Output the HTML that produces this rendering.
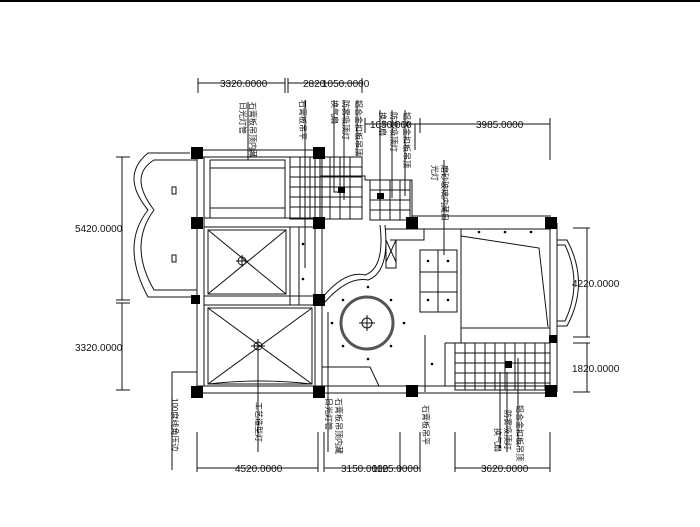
<!DOCTYPE html>
<html><head><meta charset="utf-8"><style>
html,body{margin:0;padding:0;background:#fff;}
svg{display:block;}
text{font-family:"Liberation Sans","Noto Sans CJK SC",sans-serif;fill:#111;}
.d{font-size:10px;}
.v{font-size:8px;}
</style></head><body>
<svg width="700" height="527" viewBox="0 0 700 527" xmlns="http://www.w3.org/2000/svg">
<rect x="0" y="0" width="700" height="2" fill="#000"/>
<g stroke="#111" stroke-width="1" fill="none">
<!-- outer walls -->
<path d="M197 150H320 M197 157H320 M320 150V157"/>
<path d="M320 176H365V180H412V223 M365 176V180"/>
<path d="M412 216H551 M412 229H551"/>
<path d="M550 223V392 M557 223V392"/>
<path d="M197 386H557 M197 393H557"/>
<path d="M197 150V393 M204 157V386"/>
<path d="M315 157V386 M322 157V386"/>
<path d="M204 218H315 M204 227H315"/>
<path d="M204 296H315 M204 305H315"/>
<!-- upper left room -->
<path d="M210 160H285V218 M210 168H285 M210 208H285 M210 160V218"/>
<!-- diag room -->
<rect x="208" y="230" width="78" height="64"/>
<path d="M208 230L286 294 M286 230L208 294"/>
<circle cx="242" cy="261" r="4"/>
<path d="M236 261H248 M242 255V267"/>
<!-- lower diag room -->
<path d="M208 308H312V384H208Z M208 308L312 384 M312 308L208 384"/>
<path d="M208 384Q260 378 312 384"/>
<circle cx="258" cy="346" r="4"/>
<path d="M251 346H265 M258 339V353"/>
<!-- left balcony -->
<path d="M197 160H154 Q128 176 154 210 Q128 245 154 290 H197"/>
<path d="M190 153H148 Q120 176 148 210 Q120 245 148 297 H197"/>
<rect x="172" y="187" width="4" height="7"/>
<rect x="172" y="255" width="4" height="7"/>
<!-- middle corridor -->
<path d="M290 227V305 M299 227V305"/>
<!-- stair curve -->
<path d="M322 298 Q345 270 365 275 Q385 268 380 225"/>
<path d="M325 302 Q348 276 368 280 Q390 272 385 225"/>
<path d="M385 229H424V240H390 M386 240V268H396V240 M386 240L396 262 M396 240L386 262"/>
<!-- circle ceiling -->
<circle cx="367" cy="323" r="26" stroke-width="3" stroke="#555"/>
<circle cx="367" cy="323" r="5"/>
<path d="M359 323H375 M367 315V331"/>
<path d="M322 367H370L379 386"/>
<!-- middle panel -->
<rect x="420" y="250" width="37" height="62"/>
<path d="M420 272H457 M420 292H457 M438 250V312"/>
<!-- bedroom -->
<path d="M461 229V328H550 M461 328V343 M445 343H550 M445 343V386"/>
<path d="M461 236L539 248L548 327"/>
<path d="M557 240H567Q590 283 567 326H557 M557 245H565Q583 283 565 321H557"/>
<!-- top grid -->
<path d="M290 157H362V219H290Z"/>
<path d="M290 167H362 M290 177H362 M290 187H362 M290 197H362 M290 207H362"/>
<path d="M300 157V219 M310 157V219 M320 157V219 M330 157V219 M340 157V219 M350 157V219"/>
<path d="M370 180H410V220H370Z M370 190H410 M370 200H410 M370 210H410 M380 180V220 M390 180V220 M400 180V220"/>
<!-- bottom-right grid -->
<path d="M455 343H550V390H455Z"/>
<path d="M455 353H550 M455 363H550 M455 373H550 M455 383H550"/>
<path d="M465 343V390 M475 343V390 M485 343V390 M495 343V390 M505 343V390 M515 343V390 M525 343V390 M535 343V390 M545 343V390"/>
<!-- leader lines top -->
<path d="M248 102V160 M305 100V268 M334 100V192H340 M344 100V200 M357 100V156 M380 110V200 M392 110V198 M405 110V196 M444 160V255"/>
<!-- leader lines bottom -->
<path d="M172 372H197 M172 372V470 M258 346V452 M328 312V452 M425 335V392 M507 372V452 M500 372V448 M518 358V446"/>
<!-- dimensions top -->
<path d="M198 83H285 M198 78V93 M285 78V93 M288 83H362 M288 78V93 M362 78V93"/>
<path d="M365 124H550 M365 118V133 M420 118V133 M550 118V160 M415 124V150"/>
<!-- dimensions right -->
<path d="M587 228V337 M573 228H590 M573 337H590 M587 343V392 M573 343H590 M573 392H590"/>
<!-- left -->
<path d="M122 157V300 M116 157H130 M116 300H130 M122 303V390 M116 303H130 M116 390H130"/>
<!-- bottom -->
<path d="M197 468H318 M197 432V472 M318 432V472 M324 468H400 M324 432V472 M400 432V472 M420 432V472 M455 468H550 M455 432V472 M550 432V472 M400 468H420"/>
</g>
<!-- columns -->
<g fill="#000">
<rect x="191" y="147" width="12" height="12"/><rect x="313" y="147" width="12" height="12"/>
<rect x="191" y="217" width="12" height="12"/><rect x="313" y="217" width="12" height="12"/>
<rect x="406" y="217" width="12" height="12"/><rect x="545" y="217" width="12" height="12"/>
<rect x="191" y="295" width="9" height="9"/><rect x="313" y="294" width="12" height="12"/>
<rect x="191" y="386" width="12" height="12"/><rect x="313" y="386" width="12" height="12"/>
<rect x="406" y="385" width="12" height="12"/><rect x="545" y="385" width="12" height="12"/>
<rect x="549" y="335" width="8" height="8"/>
<rect x="338" y="187" width="7" height="6"/><rect x="377" y="193" width="7" height="6"/>
<rect x="505" y="361" width="7" height="7"/>
<!-- dots -->
<circle cx="303" cy="244" r="1.3"/><circle cx="303" cy="279" r="1.3"/>
<circle cx="368" cy="287" r="1.3"/><circle cx="343" cy="300" r="1.3"/><circle cx="391" cy="300" r="1.3"/>
<circle cx="332" cy="323" r="1.3"/><circle cx="404" cy="323" r="1.3"/>
<circle cx="343" cy="346" r="1.3"/><circle cx="391" cy="346" r="1.3"/><circle cx="368" cy="359" r="1.3"/>
<circle cx="428" cy="261" r="1.3"/><circle cx="448" cy="261" r="1.3"/><circle cx="428" cy="300" r="1.3"/><circle cx="448" cy="300" r="1.3"/>
<circle cx="479" cy="232" r="1.3"/><circle cx="505" cy="232" r="1.3"/><circle cx="531" cy="232" r="1.3"/>
<circle cx="432" cy="364" r="1.3"/>
</g>
<!-- dimension text -->
<text class="d" x="220" y="87">3320.0000</text>
<text class="d" x="303" y="87">2820</text><text class="d" x="322" y="87">1050.0000</text>
<text class="d" x="370" y="128">1050.000</text>
<text class="d" x="476" y="128">3985.0000</text>
<text class="d" x="572" y="287">4220.0000</text>
<text class="d" x="572" y="372">1820.0000</text>
<text class="d" x="75" y="232">5420.0000</text>
<text class="d" x="75" y="351">3320.0000</text>
<text class="d" x="235" y="472">4520.0000</text>
<text class="d" x="341" y="472">3150.0000</text><text class="d" x="372" y="472">1125.0000</text>
<text class="d" x="481" y="472">3620.0000</text>
<!-- vertical labels -->
<g class="v">
<text transform="translate(250,102) rotate(90)">石膏板吊顶内藏</text>
<text transform="translate(240,102) rotate(90)">日光灯管</text>
<text transform="translate(300,100) rotate(90)">石膏板吊平</text>
<text transform="translate(332,100) rotate(90)">换气扇</text>
<text transform="translate(343,100) rotate(90)">防雾吸顶灯</text>
<text transform="translate(356,100) rotate(90)">铝合金扣板吊顶</text>
<text transform="translate(380,112) rotate(90)">换气扇</text>
<text transform="translate(391,112) rotate(90)">防雾吸顶灯</text>
<text transform="translate(404,112) rotate(90)">铝合金扣板吊顶</text>
<text transform="translate(442,165) rotate(90)">磨砂玻璃内藏日</text>
<text transform="translate(432,165) rotate(90)">光灯</text>
<text transform="translate(172,398) rotate(90)">100度线角压边</text>
<text transform="translate(256,402) rotate(90)">工艺造型灯</text>
<text transform="translate(336,398) rotate(90)">石膏板吊顶内藏</text>
<text transform="translate(326,398) rotate(90)">日光灯管</text>
<text transform="translate(423,405) rotate(90)">石膏板吊平</text>
<text transform="translate(517,405) rotate(90)">铝合金扣板吊顶</text>
<text transform="translate(505,410) rotate(90)">防雾吸顶灯</text>
<text transform="translate(495,428) rotate(90)">换气扇</text>
</g>
</svg>
</body></html>
